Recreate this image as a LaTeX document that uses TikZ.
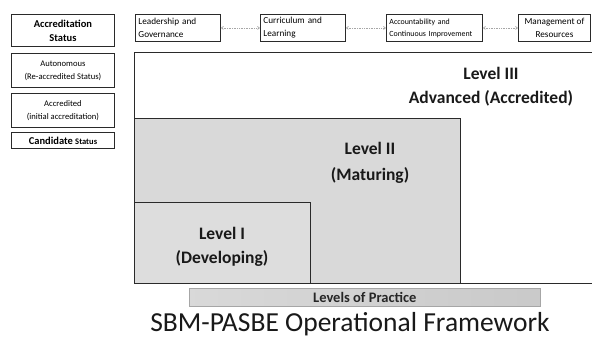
\documentclass[tikz,border=0pt]{standalone}
\usepackage{fontspec}
\setmainfont{Carlito}
\usetikzlibrary{arrows.meta}
\definecolor{edge}{HTML}{2A2A2A}
\definecolor{shade}{HTML}{D9D9D9}
\definecolor{shadeB}{HTML}{DDDDDD}
\tikzset{
  box/.style={draw=edge, line width=0.9pt, fill=white, inner sep=0pt, anchor=north west, align=center},
  lbox/.style={box, align=left},
  link/.style={densely dotted, draw=gray!70, line width=0.7pt, {Straight Barb[length=2pt,width=3pt]}-{Straight Barb[length=2pt,width=3pt]}},
  lvl/.style={font=\bfseries\fontsize{17.5}{24}\selectfont, align=center, text=black!90},
  region/.style={draw=edge, line width=0.9pt}
}
\begin{document}
\begin{tikzpicture}[x=1pt,y=-1pt]
\useasboundingbox (0,0) rectangle (592,339);
% left column
\node[box, minimum width=103pt, minimum height=32pt, font=\bfseries\fontsize{10.5}{14}\selectfont] (acc) at (11,14) {Accreditation\\Status};
\node[box, minimum width=103pt, minimum height=34pt, font=\fontsize{8.6}{13}\selectfont] (auto) at (11,53) {Autonomous\\(Re-accredited Status)};
\node[box, minimum width=103pt, minimum height=34pt, font=\fontsize{8.6}{13}\selectfont] (accd) at (11,93) {Accredited\\(initial accreditation)};
\node[box, minimum width=103pt, minimum height=16pt, font=\bfseries\fontsize{10.5}{13}\selectfont] (cand) at (11,132) {Candidate {\fontsize{8.5}{13}\selectfont Status}};
% top row
\node[lbox, minimum width=85pt, minimum height=27pt, text width=79pt, font=\fontsize{9.2}{13}\selectfont] (lead) at (135,14) {Leadership and\\Governance};
\node[lbox, minimum width=85pt, minimum height=27pt, text width=79pt, font=\fontsize{9.2}{13}\selectfont] (curr) at (260,14) {Curriculum and\\Learning};
\node[lbox, minimum width=96pt, minimum height=27pt, text width=90pt, font=\fontsize{7.9}{12}\selectfont] (acct) at (386,14) {Accountability and\\Continuous Improvement};
\node[box, minimum width=72pt, minimum height=27pt, font=\fontsize{9.2}{13}\selectfont] (mgmt) at (518,14) {Management of\\Resources};
\draw[link] (lead.east) -- (curr.west);
\draw[link] (curr.east) -- (acct.west);
\draw[link] (acct.east) -- (mgmt.west);
% levels
\coordinate (otl) at (134,52);
\coordinate (otr) at (593,52);
\coordinate (obl) at (134,283);
\coordinate (obr) at (593,283);
\draw[region] (otr) -- (otl) -- (obl) -- (obr);
\path[region, fill=shade] (134,118) rectangle (460,283);
\path[region, fill=shadeB] (134,202) rectangle (310,283);
\node[lvl] (l3) at (491,87) {Level III\\Advanced (Accredited)};
\node[lvl, font=\bfseries\fontsize{17.5}{26}\selectfont] (l2) at (370,163) {Level II\\(Maturing)};
\node[lvl] (l1) at (222,247) {Level I\\(Developing)};
% bar
\node[draw=gray!70, line width=0.6pt, left color=gray!30, right color=gray!42, minimum width=351pt, minimum height=18pt, inner sep=0pt, anchor=north west, font=\bfseries\fontsize{14.5}{16}\selectfont, text=black!85] (lop) at (189,288) {Levels of Practice};
\node[font=\fontsize{27.5}{30}\selectfont, anchor=base, text=black!90] (title) at (350,331) {SBM-PASBE Operational Framework};
\end{tikzpicture}
\end{document}
